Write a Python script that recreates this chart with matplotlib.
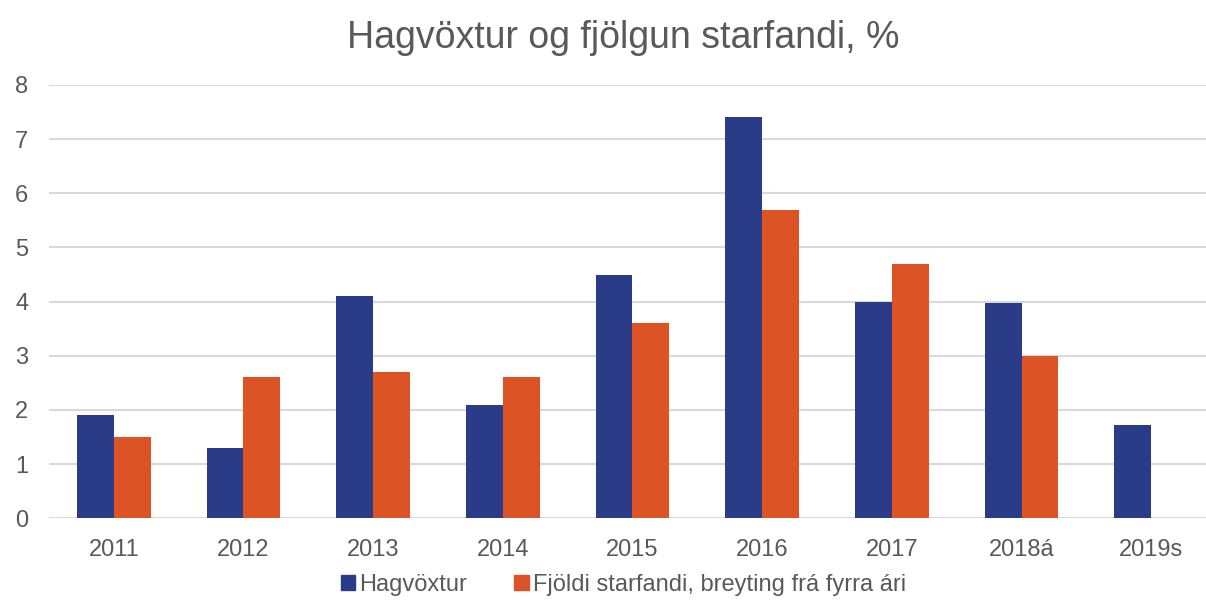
import matplotlib
matplotlib.use("Agg")
import matplotlib.pyplot as plt
from matplotlib.patches import Patch
import numpy as np

# data
years = ["2011", "2012", "2013", "2014", "2015", "2016", "2017", "2018á", "2019s"]
hagvoxtur = [1.9, 1.3, 4.1, 2.1, 4.5, 7.4, 4.0, 3.97, 1.73]
starfandi = [1.5, 2.6, 2.7, 2.6, 3.6, 5.7, 4.7, 3.0, np.nan]

blue = "#2A3C87"
orange = "#DC5426"
grey = "#595959"

plt.rcParams['font.family'] = ['Liberation Sans', 'DejaVu Sans']

def main():
    fig = plt.figure(figsize=(12.06, 6.10), dpi=100)
    ax = fig.add_axes([0.0406, 0.1503, 0.9677, 0.7104])

    x = np.arange(len(years))
    w = 0.285
    ax.bar(x - w / 2, hagvoxtur, w, color=blue, zorder=3)
    ax.bar(x + w / 2, starfandi, w, color=orange, zorder=3)

    ax.set_xlim(-0.5, len(years) - 0.5)
    ax.set_ylim(0, 8)
    ax.set_yticks(range(0, 9))
    ax.set_xticks(x)
    ax.set_xticklabels(years)
    ax.tick_params(axis='both', length=0, labelsize=17, labelcolor=grey)
    ax.tick_params(axis='x', pad=15)
    ax.tick_params(axis='y', pad=15)
    ax.grid(axis='y', color='#D9D9D9', linewidth=1.5, zorder=0)
    for s in ax.spines.values():
        s.set_visible(False)

    fig.text(0.517, 1 - 38 / 610, "Hagvöxtur og fjölgun starfandi, %",
             ha='center', va='center', fontsize=27, color=grey)

    handles = [Patch(color=blue, label="Hagvöxtur"),
               Patch(color=orange, label="Fjöldi starfandi, breyting frá fyrra ári")]
    fig.legend(handles=handles, loc='center', bbox_to_anchor=(0.517, 1 - 585 / 610),
               ncol=2, frameon=False, fontsize=17, labelcolor=grey,
               handlelength=0.6, handleheight=0.6, handletextpad=0.2,
               columnspacing=2.0)

    fig.savefig("out.png", dpi=100)

if __name__ == '__main__':
    main()
